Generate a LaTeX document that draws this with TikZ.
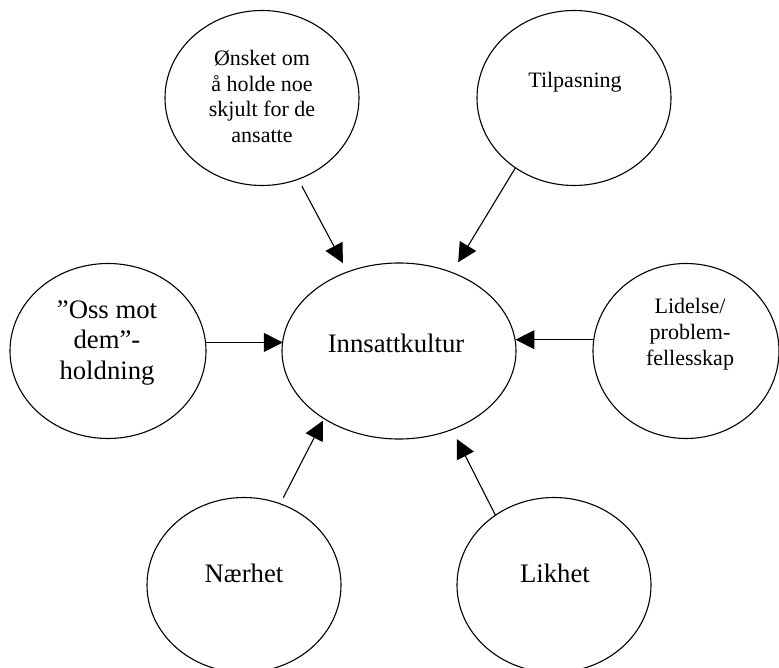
\documentclass[tikz,border=0pt]{standalone}
\usepackage{fontspec}
\setmainfont{Liberation Serif}
\usetikzlibrary{shapes.geometric,arrows.meta}
\begin{document}
\begin{tikzpicture}[x=1pt,y=-1pt,
  bub/.style={draw, ellipse, line width=1.1pt, inner sep=0pt, outer sep=0pt,
              minimum width=194pt, minimum height=175pt},
  small/.style={font=\fontsize{22}{25.7}\selectfont, align=center, inner sep=0pt},
  big/.style={font=\fontsize{26.7}{30.5}\selectfont, align=center, inner sep=0pt},
  arr/.style={-{Triangle[length=19pt,width=19pt]}, line width=1.1pt}]
\useasboundingbox (0,0) rectangle (779,668);
\clip (0,0) rectangle (779,668);
% ellipses
\node[bub] (tl) at (262,98) {};
\node[bub] (tr) at (574,98) {};
\node[bub, minimum width=196pt] (l) at (108,351) {};
\node[bub, minimum width=234pt, minimum height=176pt] (c) at (399,351) {};
\node[bub, minimum width=186pt] (r) at (686,351) {};
\node[bub] (bl) at (244,585) {};
\node[bub] (br) at (554,585) {};
% texts
\node[small] (tltxt) at (262,96.5) {Ønsket om\\å holde noe\\skjult for de\\ansatte};
\node[small] (trtxt) at (575,82) {Tilpasning};
\node[big] (ltxt) at (107,343) {”Oss mot\\dem”-\\holdning};
\node[big] (ctxt) at (396,343) {Innsattkultur};
\node[small, font=\fontsize{22}{26}\selectfont] (rtxt) at (690,334) {Lidelse/\\problem-\\fellesskap};
\node[big] (bltxt) at (244,573) {Nærhet};
\node[big] (brtxt) at (555,573) {Likhet};
% arrows
\draw[arr, shorten <=8pt, shorten >=10pt] (tl.-66.6) -- (c.123.3);
\draw[arr, shorten >=12pt] (tr.-130.6) -- (c.56.6);
\draw[arr] (l.5.8) -- (c.175.1 |- l.5.8);
\draw[arr] (r.173.3) -- (c.4.9 |- r.173.3);
\draw[arr, shorten <=7pt, shorten >=2.5pt] (bl.66.5) -- (c.-138.8);
\draw[arr, shorten >=10.7pt] (br.130.1) -- (c.-56);
\end{tikzpicture}
\end{document}
